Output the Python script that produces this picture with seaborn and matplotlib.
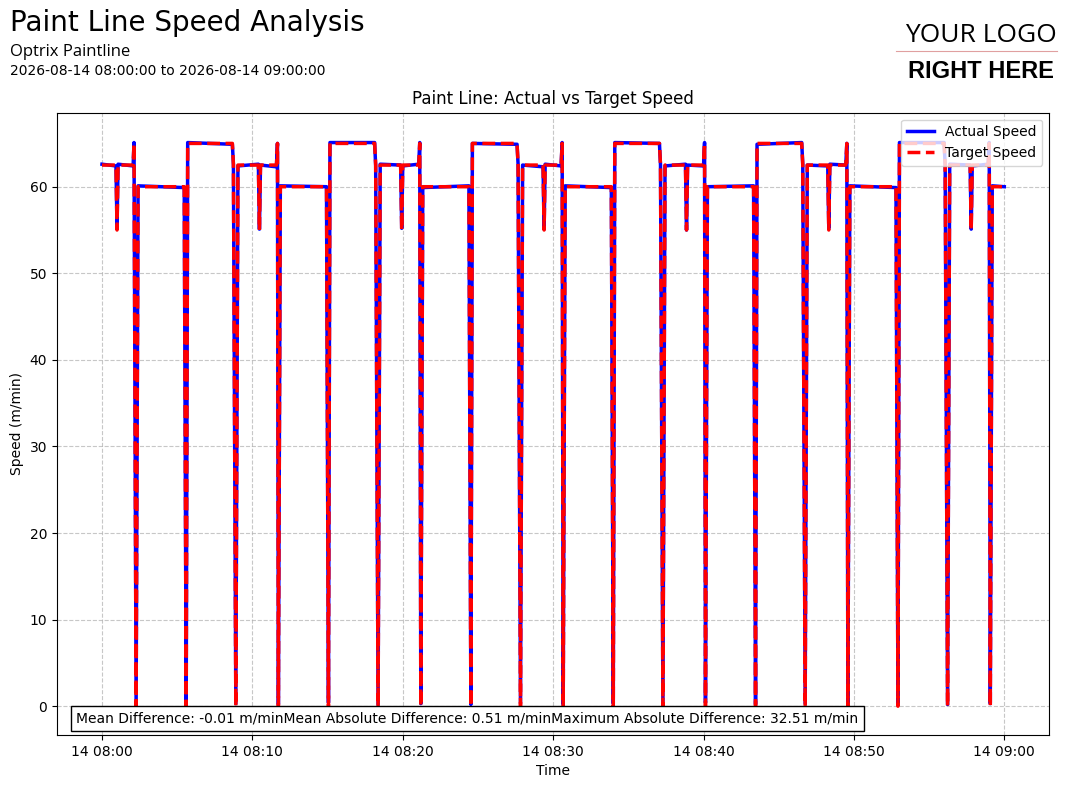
import pandas as pd
import matplotlib
matplotlib.use('Agg')
import matplotlib.pyplot as plt
import seaborn as sns

# minutes after 08:00 where the target speed changes
target_min = [0.00, 0.93, 1.00, 1.07, 2.07, 2.13,
              2.27, 2.40, 5.47, 5.60, 5.70, 8.67, 8.74, 8.90, 9.04, 10.40, 10.47, 10.54, 11.60, 11.67,
              11.73, 11.86, 14.93, 15.06, 15.16, 18.13, 18.20, 18.36, 18.50, 19.86, 19.93, 20.00, 21.06, 21.13,
              21.20, 21.33, 24.40, 24.53, 24.63, 27.60, 27.67, 27.83, 27.97, 29.33, 29.40, 29.47, 30.53, 30.60,
              30.67, 30.80, 33.87, 34.00, 34.10, 37.07, 37.14, 37.30, 37.44, 38.80, 38.87, 38.94, 40.00, 40.07,
              40.13, 40.26, 43.33, 43.46, 43.56, 46.53, 46.60, 46.76, 46.90, 48.26, 48.33, 48.40, 49.46, 49.53,
              49.60, 49.73, 52.80, 52.93, 53.03, 56.00, 56.07, 56.23, 56.37, 57.73, 57.80, 57.87, 58.93, 59.00,
              59.07, 59.20, 60.00]
target_speed = [62.5, 62.5, 55, 62.5, 62.5, 65,
                0, 60, 60, 0, 65, 65, 62.5, 0, 62.5, 62.5, 55, 62.5, 62.5, 65,
                0, 60, 60, 0, 65, 65, 62.5, 0, 62.5, 62.5, 55, 62.5, 62.5, 65,
                0, 60, 60, 0, 65, 65, 62.5, 0, 62.5, 62.5, 55, 62.5, 62.5, 65,
                0, 60, 60, 0, 65, 65, 62.5, 0, 62.5, 62.5, 55, 62.5, 62.5, 65,
                0, 60, 60, 0, 65, 65, 62.5, 0, 62.5, 62.5, 55, 62.5, 62.5, 65,
                0, 60, 60, 0, 65, 65, 62.5, 0, 62.5, 62.5, 55, 62.5, 62.5, 65,
                0, 60, 60]
# measured speed at the same instants, small wobble around the target
actual_speed = [62.6, 62.4, 55.2, 62.6, 62.4, 65.1,
                0.3, 60.1, 59.9, 0.2, 65.1, 64.9, 62.6, 0.3, 62.4, 62.6, 55.1, 62.5, 62.3, 65.0,
                0.2, 60.1, 60.0, 0.4, 65.1, 65.1, 62.4, 0.2, 62.6, 62.5, 55.2, 62.4, 62.6, 65.1,
                0.3, 59.9, 60.1, 0.2, 65.0, 64.9, 62.6, 0.3, 62.5, 62.3, 55.1, 62.6, 62.4, 65.1,
                0.2, 60.1, 59.9, 0.3, 65.1, 65.0, 62.5, 0.2, 62.4, 62.6, 55.0, 62.5, 62.4, 65.1,
                0.4, 60.0, 60.1, 0.2, 64.9, 65.1, 62.6, 0.3, 62.5, 62.4, 55.2, 62.6, 62.5, 65.0,
                0.2, 60.1, 59.9, 0.3, 65.1, 65.1, 62.4, 0.2, 62.6, 62.5, 55.1, 62.4, 62.6, 65.1,
                0.3, 60.1, 60.0]
stat_names = ['Mean Difference', 'Mean Absolute Difference', 'Maximum Absolute Difference']
stat_values = [-0.01, 0.51, 32.51]

start = pd.Timestamp('2026-08-14 08:00:00')
df = pd.DataFrame({'time': start + pd.to_timedelta(target_min, unit='min'),
                   'actual': actual_speed, 'target': target_speed})

fig = plt.figure(figsize=(10.73, 7.88), dpi=100)
ax = fig.add_axes([0.053, 0.067, 0.925, 0.79])

ax.fill_between(df['time'], df['actual'], df['target'], color='blue', alpha=0.2, linewidth=0)
sns.lineplot(data=df, x='time', y='actual', ax=ax, color='blue', linewidth=2.5, label='Actual Speed')
sns.lineplot(data=df, x='time', y='target', ax=ax, color='red', linewidth=2.5, linestyle='--',
             label='Target Speed')

ax.set_ylim(-3.35, 68.55)
ax.set_title('Paint Line: Actual vs Target Speed', fontsize=12)
ax.set_xlabel('Time')
ax.set_ylabel('Speed (m/min)')
ax.grid(True, linestyle='--', alpha=0.7)
ax.legend(loc='upper right')

# stats box, the labels run together as in the original
txt = ''.join(f'{n}: {v:.2f} m/min' for n, v in zip(stat_names, stat_values))
ax.text(0.0195, 0.02, txt, transform=ax.transAxes, fontsize=10,
        bbox=dict(facecolor='white', edgecolor='black', boxstyle='square,pad=0.4'))

# header
fig.text(0.009, 0.988, 'Paint Line Speed Analysis', fontsize=20, va='top')
fig.text(0.009, 0.944, 'Optrix Paintline', fontsize=12, va='top', family='Open Sans')
fig.text(0.009, 0.919, '2026-08-14 08:00:00 to 2026-08-14 09:00:00', fontsize=10, va='top')

# logo placeholder
fig.text(0.9145, 0.955, 'YOUR LOGO', fontsize=19, ha='center', va='center',
         family='Open Sans')
fig.add_artist(plt.Line2D([0.835, 0.985], [0.935, 0.935], color='#e0a0a0', linewidth=0.8))
fig.text(0.9145, 0.909, 'RIGHT HERE', fontsize=17, ha='center', va='center',
         family=['Liberation Sans', 'DejaVu Sans'], fontweight='bold')

fig.savefig('out.png', dpi=100)
